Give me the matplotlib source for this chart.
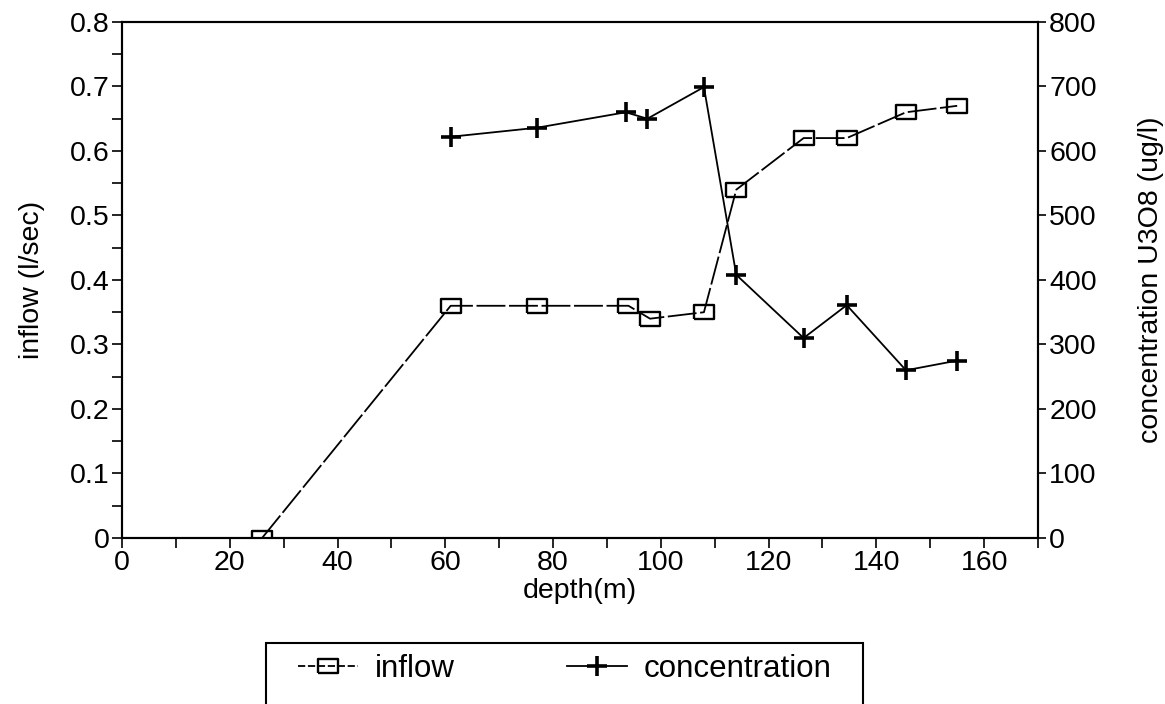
import matplotlib.pyplot as plt
from matplotlib.patches import Rectangle
from matplotlib.lines import Line2D
from matplotlib.ticker import MultipleLocator

plt.rcParams['font.family'] = ['Liberation Sans', 'DejaVu Sans']

# values
depth_inflow = [26, 61, 77, 94, 98, 108, 114, 126.5, 134.5, 145.5, 155]
inflow = [0.0, 0.36, 0.36, 0.36, 0.34, 0.35, 0.54, 0.62, 0.62, 0.66, 0.67]
depth_conc = [61, 77, 93.5, 97.5, 108, 114, 126.5, 134.5, 145.5, 155]
conc = [622, 636, 660, 650, 699, 408, 310, 361, 260, 275]

x_ticks = [0, 20, 40, 60, 80, 100, 120, 140, 160]
y_left_ticks = [0, 0.1, 0.2, 0.3, 0.4, 0.5, 0.6, 0.7, 0.8]
y_right_ticks = [0, 100, 200, 300, 400, 500, 600, 700, 800]

# wide box marker like the original plot
box = [(-1.5, -1), (1.5, -1), (1.5, 1), (-1.5, 1), (-1.5, -1)]

fs = 20.5
fig = plt.figure(figsize=(11.65, 7.04), dpi=100)
ax = fig.add_axes([0.1047, 0.2358, 0.7863, 0.733])
ax2 = ax.twinx()

ax.plot(depth_inflow, inflow, color='black', lw=1.3, ls=(0, (16, 2)),
        marker=box, ms=15, mfc='none', mec='black', mew=1.7)
ax2.plot(depth_conc, conc, color='black', lw=1.3,
         marker='+', ms=14, mew=2.6)

ax.set_xlim(0, 170)
ax.set_ylim(0, 0.8)
ax2.set_ylim(0, 800)

ax.set_xticks(x_ticks)
ax.set_xticklabels([str(t) for t in x_ticks])
ax.xaxis.set_minor_locator(MultipleLocator(10))
ax.set_yticks(y_left_ticks)
ax.set_yticklabels(['0'] + ['%.1f' % t for t in y_left_ticks[1:]])
ax.yaxis.set_minor_locator(MultipleLocator(0.05))
ax2.set_yticks(y_right_ticks)

ax.tick_params(axis='both', which='both', direction='out', length=7, width=1.2,
               labelsize=fs, pad=2)
ax2.tick_params(axis='y', direction='out', length=6, width=1.2, labelsize=fs, pad=2)

for a in (ax, ax2):
    for s in a.spines.values():
        s.set_linewidth(1.5)

ax.set_xlabel('depth(m)', fontsize=fs, labelpad=1)
ax.set_ylabel('inflow (l/sec)', fontsize=fs, labelpad=18)
ax2.set_ylabel('concentration U3O8 (ug/l)', fontsize=fs, labelpad=30)

# legend below the plot, frame runs off the bottom edge
h1 = Line2D([], [], color='black', lw=1.3, ls=(0, (4, 1.5)), marker=box, ms=15,
            mfc='none', mec='black', mew=1.7)
h2 = Line2D([], [], color='black', lw=1.3, marker='+', ms=14, mew=2.6)
fig.legend([h1, h2], ['inflow', 'concentration'], ncol=2, frameon=False,
           loc='center left', bbox_to_anchor=(0.232, 0.05), fontsize=22.5,
           handlelength=1.9, handletextpad=0.55, columnspacing=3.6)
fig.patches.append(Rectangle((266 / 1165, -0.05), (863 - 266) / 1165, 0.137,
                             transform=fig.transFigure, fill=False,
                             ec='black', lw=1.5))

fig.savefig('out.png', dpi=100)
